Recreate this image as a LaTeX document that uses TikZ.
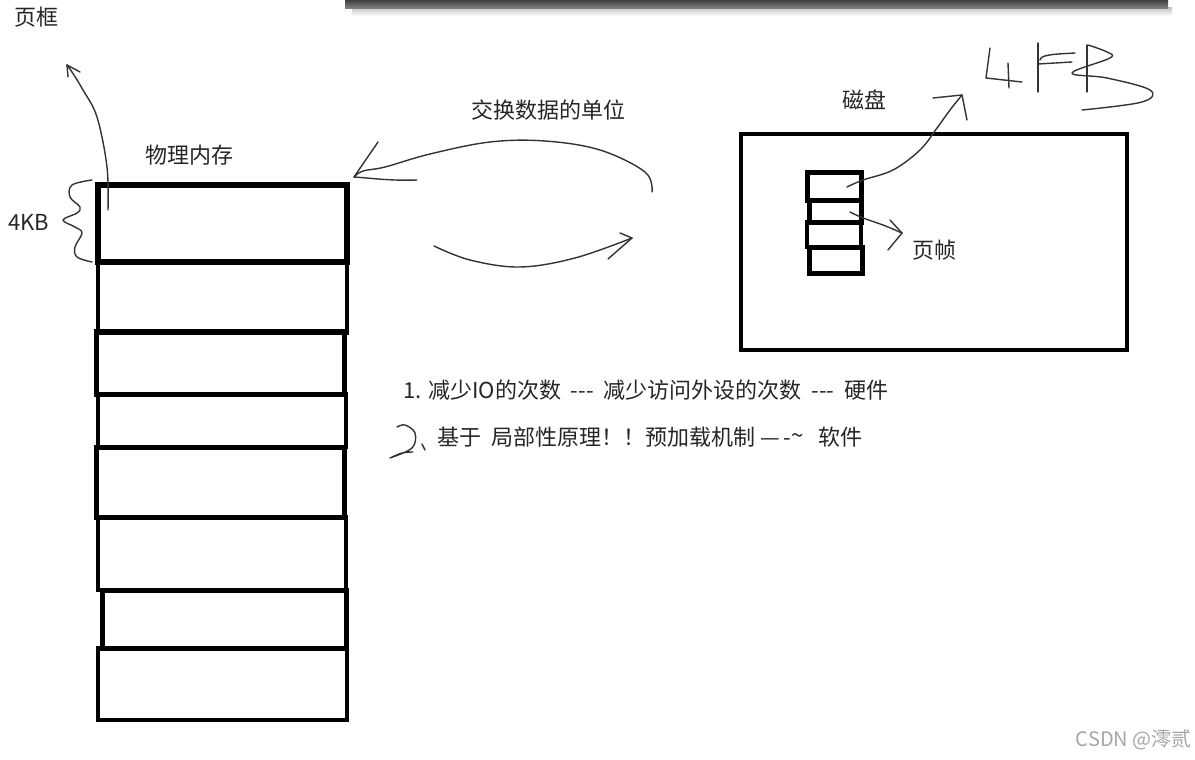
\documentclass[tikz,border=0pt]{standalone}
\usepackage{fontspec}
\setmainfont{Noto Sans CJK SC}
\usetikzlibrary{arrows.meta}
\newcommand{\tridash}{\mbox{-}\mbox{-}\mbox{-}}
\begin{document}
\begin{tikzpicture}[x=0.5pt,y=-0.5pt,
  cell/.style={draw=black,line width=2pt},
  hand/.style={draw=black!80,line width=0.7pt,line cap=round,line join=round},
  lbl/.style={font=\fontsize{11}{13}\selectfont,inner sep=0pt,text=black!85},
  wm/.style={font=\fontsize{10}{12}\selectfont,inner sep=0pt,text=black!35}]
\useasboundingbox (0,0) rectangle (1195,760);
\fill[white] (0,0) rectangle (1195,760);
% top bar
\shade[top color=black!25,bottom color=white] (352,7) rectangle (1172,16);
\shade[top color=black!75,bottom color=black!50] (345,0) rectangle (1168,8);

% physical memory column
\draw[cell,line width=3pt] (98,185) rectangle (347,262);
\draw[cell] (98,262) rectangle (347,333);
\draw[cell,line width=2.5pt] (96,331) rectangle (344,394);
\draw[cell] (98,394) rectangle (346,447);
\draw[cell,line width=2.5pt] (96,447) rectangle (344,517);
\draw[cell] (98,517) rectangle (346,590);
\draw[cell,line width=2.5pt] (102,590) rectangle (346,648);
\draw[cell] (98,648) rectangle (347,720);

% disk
\draw[cell] (741,134) rectangle (1127,350);
\draw[cell,line width=2.5pt] (807,172) rectangle (861,200);
\draw[cell,line width=2.5pt] (809,200) rectangle (861,222);
\draw[cell] (807,222) rectangle (861,247);
\draw[cell,line width=2.5pt] (809,247) rectangle (862,273);

% labels
\node[lbl] (yekuang) at (36,17) {页框};
\node[lbl] (kb) at (29,222) {4KB};
\node[lbl] (wlnc) at (189,155) {物理内存};
\node[lbl] (jiaohuan) at (548,110) {交换数据的单位};
\node[lbl] (cipan) at (864,100) {磁盘};
\node[lbl] (yezhen) at (934,250) {页帧};
\node[lbl,anchor=west] (l1) at (403,390) {1. 减少IO的次数\ \ \tridash\ \ 减少访问外设的次数\ \ \tridash\ \ 硬件};
\node[lbl,anchor=west] (l2) at (437,437) {基于\ \ 局部性原理！！预加载机制\ —\,-\raisebox{1pt}{\textasciitilde}\ \ \ 软件};
\node[wm,anchor=east] (mark) at (1192,740) {CSDN @澪贰};

% brace
\draw[hand] plot[smooth,tension=0.6] coordinates {(92,180) (72,185) (70,197) (80,207) (77,213) (63,220) (75,227) (82,233) (75,247) (77,257) (92,262)};

% arrow from memory cell to 页框
\coordinate (m1) at (108,210);
\coordinate (t1) at (67,65);
\draw[hand] plot[smooth,tension=0.6] coordinates {(m1) (107,167) (97,117) (83,90) (72,72) (t1)};
\draw[hand] (t1) -- (80,72);
\draw[hand] (t1) -- (68,77);

% exchange arrows
\coordinate (t2) at (354,177);
\draw[hand] plot[smooth,tension=0.6] coordinates {(652,192) (645,172) (600,150) (545,141) (490,142) (430,154) (385,167) (363,171) (t2)};
\draw[hand] (t2) -- (378,142);
\draw[hand] (t2) .. controls (370,178) and (390,181) .. (417,180);
\coordinate (t3) at (632,238);
\draw[hand] plot[smooth,tension=0.6] coordinates {(434,246) (470,260) (520,267) (575,258) (t3)};
\draw[hand] (t3) -- (620,233);
\draw[hand] (t3) -- (608,259);

% disk arrows
\coordinate (d1) at (850,212);
\coordinate (t4) at (902,233);
\draw[hand] plot[smooth,tension=0.6] coordinates {(d1) (863,218) (883,225) (t4)};
\draw[hand] (t4) -- (890,220);
\draw[hand] (t4) -- (888,250);
\coordinate (d2) at (847,187);
\coordinate (t5) at (962,95);
\draw[hand] plot[smooth,tension=0.6] coordinates {(d2) (863,180) (893,170) (920,150) (937,128) (950,110) (t5)};
\draw[hand] (933,98) -- (t5) -- (967,120);

% handwritten 4KB
\draw[hand] (990,48) -- (986,78) -- (1022,82);
\draw[hand] (1008,63) -- (1009,88);
\draw[hand] (1038,43) -- (1038,92);
\draw[hand] (1040,60) .. controls (1040,54) and (1060,54) .. (1075,53);
\draw[hand] (1038,64) -- (1072,62);
\draw[hand] (1087,45) -- (1087,92);
\draw[hand] plot[smooth,tension=0.6] coordinates {(1088,45) (1107,52) (1110,58) (1072,73) (1107,78) (1150,90) (1142,102) (1082,110)};

% handwritten 2
\draw[hand] plot[smooth,tension=0.6] coordinates {(397,427) (405,425) (415,433) (412,448) (390,458) (402,453) (413,452)};
\draw[hand] (422,444) -- (425,450);
\end{tikzpicture}
\end{document}
